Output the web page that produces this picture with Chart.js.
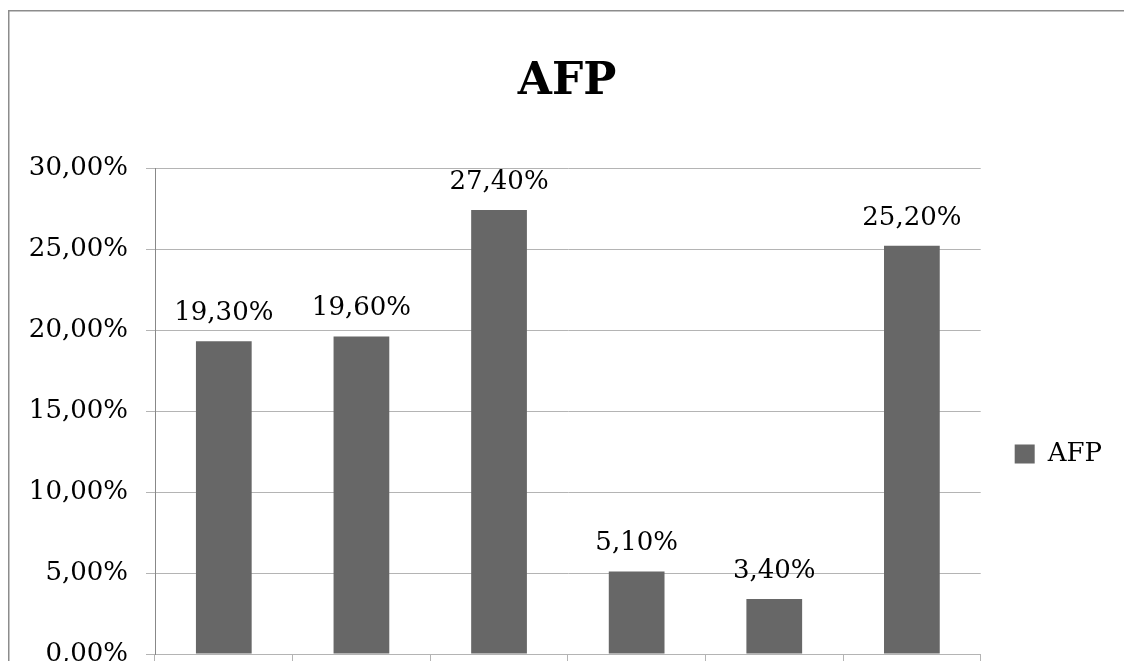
<!DOCTYPE html>
<html>
<head>
<meta charset="utf-8">
<script src="https://cdn.jsdelivr.net/npm/chart.js@4/dist/chart.umd.min.js"></script>
<style>
  html, body { margin: 0; padding: 0; background: #fff; }
  #frame { width: 1124px; height: 661px; overflow: hidden; position: relative; }
  canvas { display: block; }
</style>
</head>
<body>
<div id="frame"><canvas id="chart" width="1124" height="898"></canvas></div>
<script>
// Chart content
const chartTitle = 'AFP';
const seriesName = 'AFP';
const categories = ['1', '2', '3', '4', '5', '6'];
const afpValues = [0.193, 0.196, 0.274, 0.051, 0.034, 0.252];
const yTicks = { min: 0, max: 0.30, step: 0.05 };

const FONT = 'DejaVu Serif';
const BAR_COLOR = '#676767';
const GRID_COLOR = '#b4b4b4';
const AXIS_COLOR = '#888888';

// 0.193 -> "19,30%"
const pct = v => (v * 100).toFixed(2).replace('.', ',') + '%';

// White background and the outer frame of the chart
const framePlugin = {
  id: 'frame',
  beforeDraw(chart) {
    const ctx = chart.ctx;
    ctx.save();
    ctx.fillStyle = '#ffffff';
    ctx.fillRect(0, 0, chart.width, chart.height);
    ctx.strokeStyle = '#8c8c8c';
    ctx.lineWidth = 1.5;
    ctx.strokeRect(8.75, 10.75, chart.width + 100, chart.height + 100);
    ctx.restore();
  }
};

// Value labels above each bar
const valueLabels = {
  id: 'valueLabels',
  afterDatasetsDraw(chart) {
    const ctx = chart.ctx;
    ctx.save();
    ctx.font = '26px "' + FONT + '"';
    ctx.fillStyle = '#000';
    ctx.textAlign = 'center';
    ctx.textBaseline = 'alphabetic';
    chart.getDatasetMeta(0).data.forEach((bar, i) => {
      ctx.fillText(pct(chart.data.datasets[0].data[i]), bar.x, bar.y - 21);
    });
    ctx.restore();
  }
};

Chart.defaults.color = '#000';
Chart.defaults.font.family = FONT;

new Chart(document.getElementById('chart'), {
  type: 'bar',
  data: {
    labels: categories,
    datasets: [{
      label: seriesName,
      data: afpValues,
      backgroundColor: BAR_COLOR,
      borderWidth: 0,
      barPercentage: 0.405,
      categoryPercentage: 1
    }]
  },
  options: {
    responsive: false,
    animation: false,
    layout: { padding: { top: 10, left: 22, right: 12, bottom: 0 } },
    plugins: {
      title: {
        display: true,
        text: chartTitle,
        font: { family: FONT, size: 44, weight: 'bold', lineHeight: 1.2 },
        color: '#000',
        padding: { top: 46.6, bottom: 58.6 }
      },
      legend: {
        position: 'right',
        labels: {
          boxWidth: 20,
          boxHeight: 19,
          padding: 34,
          color: '#000',
          font: { family: FONT, size: 26 }
        }
      },
      tooltip: { enabled: false }
    },
    scales: {
      x: {
        grid: {
          display: true,
          drawOnChartArea: false,
          drawTicks: true,
          tickLength: 9,
          color: GRID_COLOR,
          offset: true
        },
        border: { display: true, color: GRID_COLOR },
        ticks: { font: { family: FONT, size: 26 }, padding: 6 },
        afterFit(scale) { scale.height = 898 - 654; }
      },
      y: {
        min: yTicks.min,
        max: yTicks.max,
        grid: {
          color: GRID_COLOR,
          tickLength: 9,
          drawTicks: true
        },
        border: { display: true, color: AXIS_COLOR },
        ticks: {
          stepSize: yTicks.step,
          padding: 18,
          font: { family: FONT, size: 26 },
          callback: v => pct(v)
        },
        afterFit(scale) { scale.width = 155 - 22; }
      }
    }
  },
  plugins: [framePlugin, valueLabels]
});
</script>
</body>
</html>
